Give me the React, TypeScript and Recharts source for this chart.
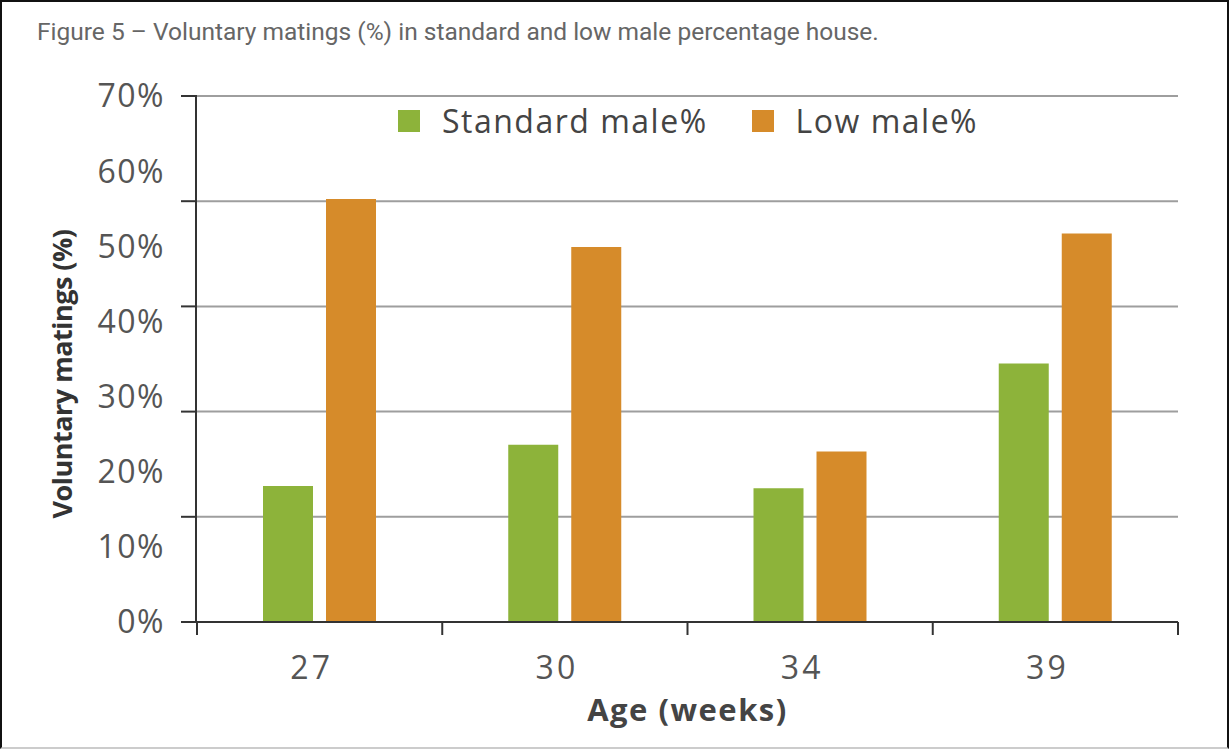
import React from 'react';
import { BarChart, Bar, XAxis, YAxis, CartesianGrid, Legend, Label } from 'recharts';

const ages = ['27', '30', '34', '39'];
const standardMale = [18.1, 23.6, 17.8, 34.4];
const lowMale = [56.3, 49.9, 22.7, 51.7];
const labelTicks = [0, 10, 20, 30, 40, 50, 60, 70];
const gridTicks = [0, 14, 28, 42, 56, 70];

const title = 'Figure 5 – Voluntary matings (%) in standard and low male percentage house.';
const seriesNames = ['Standard male%', 'Low male%'];
const GREEN = '#8DB33A';
const ORANGE = '#D68B2A';
const X_TICK_MARGIN = 34;
const X_TICK_LEN = 13;

const data = ages.map((a, i) => ({ age: a, std: standardMale[i], low: lowMale[i] }));

const EmptyTick = () => <g />;

const AgeTick = (props: any) => {
  const { x, y, payload, index, visibleTicksCount } = props;
  const half = payload && typeof payload.offset === 'number' ? payload.offset : 0;
  const axisY = y - X_TICK_MARGIN;
  const isLast = index === (visibleTicksCount || 0) - 1;
  return (
    <g>
      {half > 0 && (
        <line x1={x - half} x2={x - half} y1={axisY} y2={axisY + X_TICK_LEN} stroke="#333" strokeWidth={2} />
      )}
      {half > 0 && isLast && (
        <line x1={x + half} x2={x + half} y1={axisY} y2={axisY + X_TICK_LEN} stroke="#333" strokeWidth={2} />
      )}
      <text
        x={x - 8}
        y={y}
        dy={23}
        textAnchor="middle"
        fill="#555"
        fontSize={32}
        letterSpacing={3}
        fontFamily={'"Open Sans", sans-serif'}
      >
        {payload.value}
      </text>
    </g>
  );
};

const renderLegend = (props: any) => {
  const items = [...(props.payload || [])].sort(
    (a: any, b: any) => seriesNames.indexOf(a.value) - seriesNames.indexOf(b.value)
  );
  return (
    <div style={{ display: 'flex', alignItems: 'center', fontFamily: '"Open Sans", sans-serif', fontSize: 32, letterSpacing: 1.5, color: '#444', whiteSpace: 'nowrap' }}>
      {items.map((p: any, i: number) => (
        <div key={i} style={{ display: 'flex', alignItems: 'center', marginRight: i === 0 ? 44 : 0 }}>
          <div style={{ width: 22, height: 22, background: p.color, marginRight: 22 }} />
          <span>{p.value}</span>
        </div>
      ))}
    </div>
  );
};

export default function App() {
  return (
    <div style={{ position: 'absolute', left: 0, top: 0, width: 1229, height: 749, background: '#fff' }}>
      <div style={{ position: 'absolute', left: 37, top: 17, fontFamily: 'Roboto, sans-serif', fontSize: 24.5, color: '#666', whiteSpace: 'nowrap' }}>
        {title}
      </div>
      <BarChart
        width={1229}
        height={749}
        data={data}
        margin={{ top: 96, right: 51, bottom: 0, left: 0 }}
        barSize={50}
        barGap={13}
      >
        <CartesianGrid yAxisId="g" xAxisId="c" vertical={false} stroke="#9e9e9e" strokeWidth={2} />
        <YAxis
          yAxisId="g"
          type="number"
          domain={[0, 70]}
          ticks={gridTicks}
          width={1}
          tick={EmptyTick}
          tickSize={16}
          tickLine={{ stroke: '#333', strokeWidth: 2 }}
          axisLine={false}
          allowDataOverflow
        />
        <YAxis
          yAxisId="v"
          type="number"
          domain={[0, 70]}
          ticks={labelTicks}
          width={196}
          tickLine={false}
          tickSize={16}
          tickMargin={15}
          tickFormatter={(v: number) => `${v}%`}
          tick={{ fill: '#555', fontSize: 32, letterSpacing: 1.5, fontFamily: '"Open Sans", sans-serif' }}
          axisLine={{ stroke: '#333', strokeWidth: 2 }}
          allowDataOverflow
        >
          <Label
            value="Voluntary matings (%)"
            position="center"
            angle={-90}
            dx={-36}
            dy={15}
            style={{ fill: '#333', fontSize: 27, letterSpacing: -0.5, fontWeight: 700, fontFamily: '"Open Sans", sans-serif' }}
          />
        </YAxis>
        <XAxis
          xAxisId="c"
          dataKey="age"
          height={127}
          tickLine={false}
          tickSize={0}
          tickMargin={X_TICK_MARGIN}
          tick={AgeTick}
          interval={0}
          axisLine={{ stroke: '#333', strokeWidth: 2 }}
        >
          <Label
            value="Age (weeks)"
            position="insideBottom"
            offset={28}
            style={{ fill: '#444', fontSize: 31, letterSpacing: 1.5, fontWeight: 700, fontFamily: '"Open Sans", sans-serif' }}
          />
        </XAxis>
        <Legend
          content={renderLegend}
          layout="horizontal"
          verticalAlign="middle"
          align="center"
          wrapperStyle={{ top: 99, left: 398, width: 'auto' }}
        />
        <Bar xAxisId="c" yAxisId="v" dataKey="std" name={seriesNames[0]} fill={GREEN} isAnimationActive={false} />
        <Bar xAxisId="c" yAxisId="v" dataKey="low" name={seriesNames[1]} fill={ORANGE} isAnimationActive={false} />
      </BarChart>
      <div style={{ position: 'absolute', left: 0, top: 0, width: 1229, height: 749, boxSizing: 'border-box', borderLeft: '2px solid #111', borderTop: '2px solid #111', borderRight: '2px solid #111', borderBottom: '2px solid #ccc', pointerEvents: 'none' }} />
    </div>
  );
}
